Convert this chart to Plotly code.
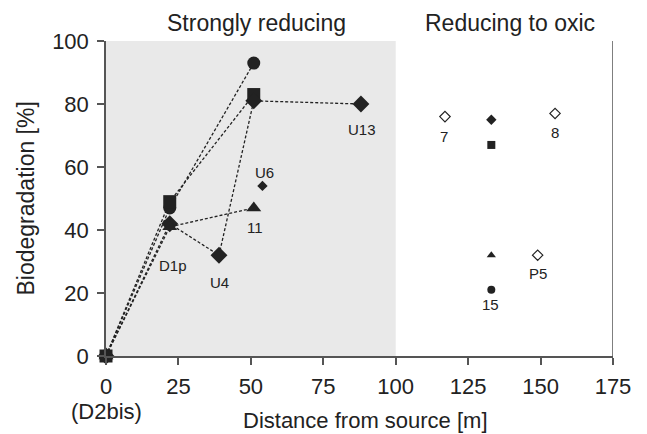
import plotly.graph_objects as go

# ---- data ----
dist_circle = [0, 22, 51]
bio_circle = [0, 47, 93]
dist_square = [0, 22, 51]
bio_square = [0, 49, 83]
dist_diamond = [0, 22, 39, 51, 88]
bio_diamond = [0, 42, 32, 81, 80]
dist_triangle = [0, 22, 51]
bio_triangle = [0, 41, 47]

u6_dist = [54]
u6_bio = [54]

oxic_dist = [133, 133, 133, 133]
oxic_bio = [21, 67, 75, 32]
oxic_symbols = ["circle", "square", "diamond", "triangle-up"]

open_dist = [117, 155, 149]
open_bio = [76, 77, 32]

label_text = ["U13", "U6", "11", "D1p", "U4", "7", "8", "P5", "15"]
label_x = [88, 54, 51, 22, 39, 117, 155, 149, 133]
label_y = [80, 54, 47, 41, 32, 76, 77, 32, 21]
label_dx = [1, 2, 1, 3, 1, -1, 0, 0, -1]
label_dy = [-25, 13, -20, -39, -27, -20, -19, -18, -15]

x_ticks = [0, 25, 50, 75, 100, 125, 150, 175]
x_ticktext = ["0", "25", "50", "75", "100", "125", "150", "175"]
source_label = "(D2bis)"
y_ticks = [0, 20, 40, 60, 80, 100]

zone_split = 100
zone_titles = ["Strongly reducing", "Reducing to oxic"]
zone_title_x = [52, 139.5]

INK = "#222222"
AXIS = "#555555"
FONT = "Liberation Sans, Arial, sans-serif"

fig = go.Figure()
line_style = dict(color=INK, width=1.3, dash="3px,2px")

for xs, ys, sym in [
    (dist_circle, bio_circle, "circle"),
    (dist_square, bio_square, "square"),
    (dist_diamond, bio_diamond, "diamond"),
    (dist_triangle, bio_triangle, "triangle-up"),
]:
    fig.add_trace(go.Scatter(
        x=xs, y=ys, mode="lines+markers", line=line_style,
        marker=dict(symbol=sym, size=13, color=INK),
        cliponaxis=False, showlegend=False, hoverinfo="x+y"))

fig.add_trace(go.Scatter(
    x=u6_dist, y=u6_bio, mode="markers",
    marker=dict(symbol="diamond", size=8, color=INK),
    cliponaxis=False, showlegend=False))

fig.add_trace(go.Scatter(
    x=oxic_dist, y=oxic_bio, mode="markers",
    marker=dict(symbol=oxic_symbols, size=8, color=INK),
    cliponaxis=False, showlegend=False))

fig.add_trace(go.Scatter(
    x=open_dist, y=open_bio, mode="markers",
    marker=dict(symbol="diamond-open", size=8, color=INK, line=dict(width=1.2, color=INK)),
    cliponaxis=False, showlegend=False))

for t, x, y, dx, dy in zip(label_text, label_x, label_y, label_dx, label_dy):
    fig.add_annotation(x=x, y=y, text=t, showarrow=False, xshift=dx, yshift=dy,
                       font=dict(size=15, color=INK, family=FONT))

# shaded zone and right border
fig.add_shape(type="rect", xref="x", yref="y", x0=0, x1=zone_split, y0=0, y1=100,
              fillcolor="#e9e9e9", line=dict(width=0), layer="below")
fig.add_shape(type="line", xref="x", yref="paper", x0=175, x1=175, y0=0, y1=1,
              line=dict(color=AXIS, width=1.5))

for t, x in zip(zone_titles, zone_title_x):
    fig.add_annotation(x=x, y=1, yref="paper", text=t, showarrow=False,
                       yanchor="middle", yshift=18, font=dict(size=23, color=INK, family=FONT))

# "(D2bis)" under the 0 tick
fig.add_annotation(x=x_ticks[0], y=0, yref="paper", text=source_label, showarrow=False,
                   yanchor="middle", yshift=-55, font=dict(size=22, color=INK, family=FONT))

# axis titles
fig.add_annotation(x=0.5, xref="paper", y=0, yref="paper", xshift=6, yshift=-64,
                   text="Distance from source [m]", showarrow=False, yanchor="middle",
                   font=dict(size=22, color=INK, family=FONT))
fig.add_annotation(x=0, xref="paper", y=0.5, yref="paper", xshift=-81,
                   text="Biodegradation [%]", textangle=-90, showarrow=False,
                   xanchor="center", yanchor="middle",
                   font=dict(size=23, color=INK, family=FONT))

fig.update_layout(
    width=639, height=426,
    margin=dict(l=98, r=34, t=33, b=78),
    paper_bgcolor="white", plot_bgcolor="white",
    font=dict(family=FONT, size=22, color=INK),
    xaxis=dict(range=[0, 175], tickvals=x_ticks, ticktext=x_ticktext, automargin=False,
               showgrid=False, zeroline=False, showline=True, linecolor=AXIS, linewidth=1.5,
               ticks="outside", ticklen=7, tickcolor=AXIS, tickwidth=1.5, ticklabelstandoff=3),
    yaxis=dict(range=[0, 100], tickvals=y_ticks, automargin=False,
               showgrid=False, zeroline=False, showline=True, linecolor=AXIS, linewidth=1.5,
               ticks="outside", ticklen=7, tickcolor=AXIS, tickwidth=1.5, ticklabelstandoff=4),
)

fig.write_html("out.html")
